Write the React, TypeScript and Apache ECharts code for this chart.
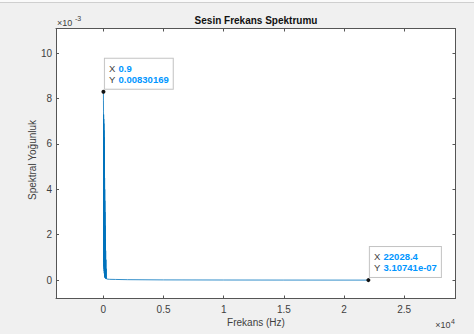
import React, { useEffect, useRef } from "react";
import * as echarts from "echarts";

// Frequency (Hz) and spectral density values
const freqHz = [
  0.9, 5, 10, 15, 20, 25, 30, 35, 40, 45, 50, 55, 60, 65, 70, 75, 80, 85, 90,
  95, 100, 105, 110, 115, 120, 125, 130, 140, 150, 160, 170, 180, 190, 200,
  210, 220, 235, 250, 265, 300, 500, 1000, 2000, 5000, 10000, 15000, 20000,
  22028.4,
];
const density = [
  8.30169e-3, 7.9e-3, 7.45e-3, 1.2e-3, 7.3e-3, 0.9e-3, 7.1e-3, 0.8e-3,
  6.9e-3, 0.6e-3, 6.6e-3, 0.5e-3, 6.3e-3, 0.4e-3, 5.9e-3, 0.3e-3, 5.5e-3,
  0.3e-3, 5.0e-3, 0.2e-3, 4.5e-3, 0.2e-3, 4.0e-3, 0.15e-3, 3.5e-3, 0.12e-3,
  3.0e-3, 0.1e-3, 2.4e-3, 0.1e-3, 1.8e-3, 0.08e-3, 1.3e-3, 0.07e-3, 0.9e-3,
  0.06e-3, 0.5e-3, 0.1e-3, 0.05e-3, 0.04e-3, 0.035e-3, 0.03e-3, 0.02e-3,
  0.01e-3, 0.005e-3, 0.002e-3, 0.001e-3, 3.10741e-7,
];

// Data tips shown on the chart
const tipX = [0.9, 22028.4];
const tipY = [0.00830169, 3.10741e-7];
const tipYText = ["0.00830169", "3.10741e-07"];

// Axis ticks
const xTicks = [0, 5000, 10000, 15000, 20000, 25000];
const yTicks = [0, 0.002, 0.004, 0.006, 0.008, 0.01];
const xRange = [-3940, 29270];
const yRange = [-0.00081, 0.01109];

const titleText = "Sesin Frekans Spektrumu";
const xName = "Frekans (Hz)";
const yName = "Spektral Yoğunluk";

const FONT = "'Liberation Sans', Arial, Helvetica, sans-serif";
const AXIS = "#555555";
const LABEL = "#404040";

export default function App() {
  const ref = useRef<HTMLDivElement>(null);

  useEffect(() => {
    if (!ref.current) return;
    const chart = echarts.init(ref.current, undefined, { renderer: "svg" });

    const tickCommon = {
      show: true,
      inside: true,
      length: 3,
      customValues: xTicks,
      lineStyle: { color: AXIS, width: 1 },
    };
    const yTickCommon = { ...tickCommon, customValues: yTicks };

    const option: any = {
      animation: false,
      backgroundColor: "#f0f0f0",
      textStyle: { fontFamily: FONT },
      grid: {
        left: 56,
        top: 28.5,
        right: 18.5,
        bottom: 35.5,
        show: true,
        backgroundColor: "#ffffff",
        borderWidth: 0,
      },
      xAxis: [
        {
          type: "value",
          position: "bottom",
          min: xRange[0],
          max: xRange[1],
          axisLine: { show: true, onZero: false, lineStyle: { color: AXIS, width: 1 } },
          axisTick: tickCommon,
          axisLabel: {
            customValues: xTicks,
            formatter: (v: number) => String(v / 10000),
            color: LABEL,
            fontSize: 10,
            fontFamily: FONT,
            margin: 6,
          },
          splitLine: { show: false },
        },
        {
          type: "value",
          position: "top",
          min: xRange[0],
          max: xRange[1],
          axisLine: { show: true, onZero: false, lineStyle: { color: AXIS, width: 1 } },
          axisTick: tickCommon,
          axisLabel: { show: false },
          splitLine: { show: false },
        },
      ],
      yAxis: [
        {
          type: "value",
          position: "left",
          min: yRange[0],
          max: yRange[1],
          axisLine: { show: true, onZero: false, lineStyle: { color: AXIS, width: 1 } },
          axisTick: yTickCommon,
          axisLabel: {
            customValues: yTicks,
            formatter: (v: number) => String(Math.round(v * 1000)),
            color: LABEL,
            fontSize: 10,
            fontFamily: FONT,
            margin: 4,
          },
          splitLine: { show: false },
        },
        {
          type: "value",
          position: "right",
          min: yRange[0],
          max: yRange[1],
          axisLine: { show: true, onZero: false, lineStyle: { color: AXIS, width: 1 } },
          axisTick: yTickCommon,
          axisLabel: { show: false },
          splitLine: { show: false },
        },
      ],
      series: [
        {
          type: "line",
          xAxisIndex: 0,
          yAxisIndex: 0,
          data: freqHz.map((f, i) => [f, density[i]]),
          showSymbol: false,
          lineStyle: { color: "#0072bd", width: 0.8 },
          itemStyle: { color: "#0072bd" },
          markPoint: {
            symbol: "circle",
            symbolSize: 4,
            itemStyle: { color: "#111111" },
            data: tipX.map((x, i) => ({
              coord: [x, tipY[i]],
              label: {
                show: true,
                position: [3.5, -31],
                formatter: `{k|X} {v|${x}}\n{k|Y} {v|${tipYText[i]}}`,
                backgroundColor: "rgba(255,255,255,0.96)",
                borderColor: "#c4c4c4",
                borderWidth: 1,
                padding: [4, 4, 4, 4],
                lineHeight: 11,
                rich: {
                  k: { color: LABEL, fontSize: 9.5, fontFamily: FONT, lineHeight: 11 },
                  v: {
                    color: "#0096ff",
                    fontSize: 9.5,
                    fontWeight: "bold",
                    fontFamily: FONT,
                    lineHeight: 11,
                  },
                },
              },
            })),
          },
        },
      ],
      graphic: [
        { type: "rect", shape: { x: 0, y: 0, width: 474, height: 2 }, style: { fill: "#fafafa" } },
        { type: "line", shape: { x1: 0, y1: 2.5, x2: 474, y2: 2.5 }, style: { stroke: "#cfcfcf", lineWidth: 1 } },
        {
          type: "text",
          x: 256,
          y: 20.5,
          style: {
            text: titleText,
            font: `bold 10px ${FONT}`,
            fill: "#111111",
            textAlign: "center",
            textVerticalAlign: "middle",
          },
        },
        {
          type: "text",
          x: 256,
          y: 322,
          style: {
            text: xName,
            font: `10px ${FONT}`,
            fill: LABEL,
            textAlign: "center",
            textVerticalAlign: "middle",
          },
        },
        {
          type: "text",
          x: 32,
          y: 160,
          rotation: Math.PI / 2,
          style: {
            text: yName,
            font: `10px ${FONT}`,
            fill: LABEL,
            textAlign: "center",
            textVerticalAlign: "middle",
          },
        },
        {
          type: "text",
          x: 57,
          y: 22.5,
          style: { text: "×10", font: `9px ${FONT}`, fill: LABEL, textAlign: "left", textVerticalAlign: "middle" },
        },
        {
          type: "text",
          x: 75,
          y: 18,
          style: { text: "-3", font: `7px ${FONT}`, fill: LABEL, textAlign: "left", textVerticalAlign: "middle" },
        },
        {
          type: "text",
          x: 450.5,
          y: 325,
          style: { text: "×10", font: `9px ${FONT}`, fill: LABEL, textAlign: "right", textVerticalAlign: "middle" },
        },
        {
          type: "text",
          x: 451,
          y: 321,
          style: { text: "4", font: `7px ${FONT}`, fill: LABEL, textAlign: "left", textVerticalAlign: "middle" },
        },
      ],
    };

    chart.setOption(option);
    return () => chart.dispose();
  }, []);

  return (
    <div
      ref={ref}
      style={{ position: "fixed", left: 0, top: 0, width: 474, height: 334 }}
    />
  );
}
